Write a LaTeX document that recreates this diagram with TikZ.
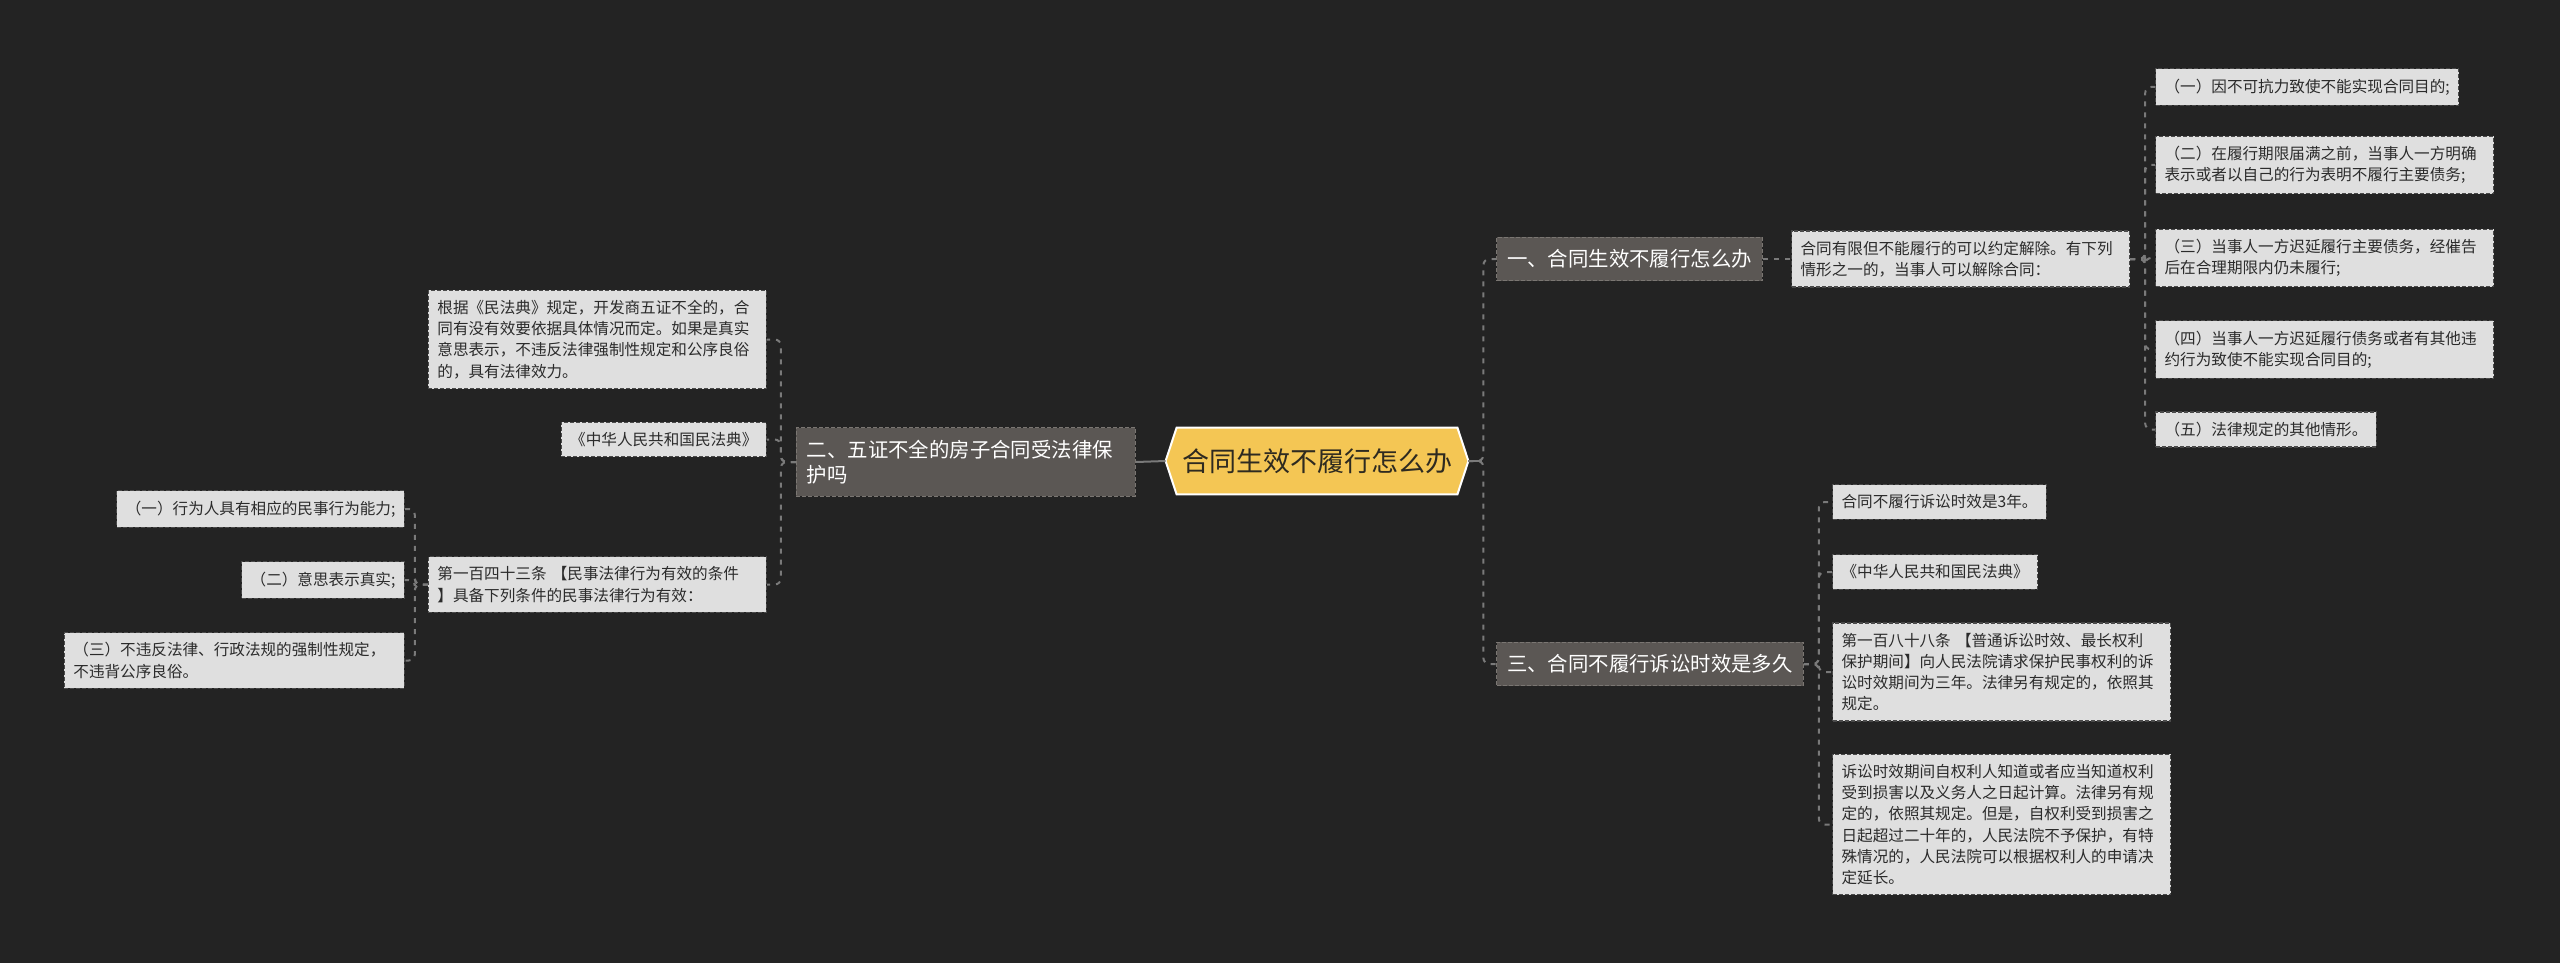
\documentclass[tikz,border=0pt]{standalone}
\usepackage{fontspec}
\setmainfont{Noto Sans CJK SC}
\usetikzlibrary{backgrounds}
\definecolor{bgc}{HTML}{232323}
\definecolor{leaffill}{HTML}{DFDFDF}
\definecolor{leafdraw}{HTML}{4A4A4A}
\definecolor{leaftext}{HTML}{2B2B2B}
\definecolor{brfill}{HTML}{5B5754}
\definecolor{brdraw}{HTML}{7A7672}
\definecolor{conncol}{HTML}{7A7A7A}
\definecolor{rootfill}{HTML}{F4C654}
\definecolor{roottext}{HTML}{2E2A20}
\tikzset{
  leaf/.style={fill=leaffill, draw=leafdraw, dash pattern=on 2pt off 1pt, line width=0.6pt,
    text=leaftext, font=\fontsize{7.8pt}{10.6pt}\selectfont, inner xsep=4.5pt, inner ysep=5pt, align=left},
  branch/.style={fill=brfill, draw=brdraw, dash pattern=on 2pt off 1pt, line width=0.6pt,
    text=white, font=\fontsize{10.2pt}{12.5pt}\selectfont, inner xsep=5.25pt, inner ysep=6.2pt, align=left},
  rootn/.style={minimum width=151pt, minimum height=33pt, inner sep=0pt, text=roottext,
    font=\fontsize{13.5pt}{16pt}\selectfont},
  conn/.style={draw=conncol, line width=1pt, dash pattern=on 2.5pt off 3pt, rounded corners=3pt},
  stub/.style={draw=conncol, line width=1pt},
}
\begin{document}
\begin{tikzpicture}[x=0.5pt,y=-0.5pt]
\begin{scope}[on background layer]
\fill[bgc] (0,0) rectangle (2560,963);
\end{scope}
\useasboundingbox (0,0) rectangle (2560,963);

% root
\node[rootn] (root) at (1317,461) {合同生效不履行怎么办};
\begin{scope}[on background layer]
\filldraw[fill=rootfill, draw=white, line width=1pt] (root.west) -- ([xshift=5.5pt]root.north west) -- ([xshift=-5.5pt]root.north east) -- (root.east) -- ([xshift=-5.5pt]root.south east) -- ([xshift=5.5pt]root.south west) -- cycle;
\end{scope}

% branch 1
\node[branch, anchor=west] (b1) at (1496,259) {一、合同生效不履行怎么办};
\node[leaf, anchor=west, text width=160pt] (a1) at (1791,259) {合同有限但不能履行的可以约定解除。有下列\\情形之一的，当事人可以解除合同：};
\node[leaf, anchor=west] (l1) at (2155,87) {（一）因不可抗力致使不能实现合同目的;};
\node[leaf, anchor=west, text width=160pt] (l2) at (2155,165) {（二）在履行期限届满之前，当事人一方明确\\表示或者以自己的行为表明不履行主要债务;};
\node[leaf, anchor=west, text width=160pt] (l3) at (2155,258) {（三）当事人一方迟延履行主要债务，经催告\\后在合理期限内仍未履行;};
\node[leaf, anchor=west, text width=160pt] (l4) at (2155,349.5) {（四）当事人一方迟延履行债务或者有其他违\\约行为致使不能实现合同目的;};
\node[leaf, anchor=west] (l5) at (2155,429.5) {（五）法律规定的其他情形。};

% branch 3
\node[branch, anchor=west] (b3) at (1496,664) {三、合同不履行诉讼时效是多久};
\node[leaf, anchor=west] (c1) at (1832,502) {合同不履行诉讼时效是3年。};
\node[leaf, anchor=west] (c2) at (1832,572) {《中华人民共和国民法典》};
\node[leaf, anchor=west, text width=160pt] (c3) at (1832,672) {第一百八十八条 【普通诉讼时效、最长权利\\保护期间】向人民法院请求保护民事权利的诉\\讼时效期间为三年。法律另有规定的，依照其\\规定。};
\node[leaf, anchor=west, text width=160pt] (c4) at (1832,824.5) {诉讼时效期间自权利人知道或者应当知道权利\\受到损害以及义务人之日起计算。法律另有规\\定的，依照其规定。但是，自权利受到损害之\\日起超过二十年的，人民法院不予保护，有特\\殊情况的，人民法院可以根据权利人的申请决\\定延长。};

% branch 2
\node[branch, anchor=east, text width=159pt] (b2) at (1136,462) {二、五证不全的房子合同受法律保\\护吗};
\node[leaf, anchor=east, text width=160pt] (B1) at (767,339.5) {根据《民法典》规定，开发商五证不全的，合\\同有没有效要依据具体情况而定。如果是真实\\意思表示，不违反法律强制性规定和公序良俗\\的，具有法律效力。};
\node[leaf, anchor=east] (B2) at (767,439.5) {《中华人民共和国民法典》};
\node[leaf, anchor=east, text width=160pt] (B3) at (767,584.5) {第一百四十三条 【民事法律行为有效的条件\\】具备下列条件的民事法律行为有效：};
\node[leaf, anchor=east] (D1) at (405,509) {（一）行为人具有相应的民事行为能力;};
\node[leaf, anchor=east] (D2) at (405,580) {（二）意思表示真实;};
\node[leaf, anchor=east, text width=161pt] (D3) at (405,660.5) {（三）不违反法律、行政法规的强制性规定，\\不违背公序良俗。};

% connectors
\foreach \c in {b1,b3} \draw[conn] (root.east) -- ++(15,0) |- (\c.west);
\draw[stub] (root.east) -- ++(14,0);
\draw[stub] (root.west) -- (b2.east);
\draw[conn] (b1.east) -- (a1.west);
\foreach \c in {l1,l2,l3,l4,l5} \draw[conn] (a1.east) -- ++(15,0) |- (\c.west);
\foreach \c in {c1,c2,c3,c4} \draw[conn] (b3.east) -- ++(15,0) |- (\c.west);
\foreach \c in {B1,B2,B3} \draw[conn] (b2.west) -- ++(-15,0) |- (\c.east);
\foreach \c in {D1,D2,D3} \draw[conn] (B3.west) -- ++(-13,0) |- (\c.east);
\end{tikzpicture}
\end{document}
